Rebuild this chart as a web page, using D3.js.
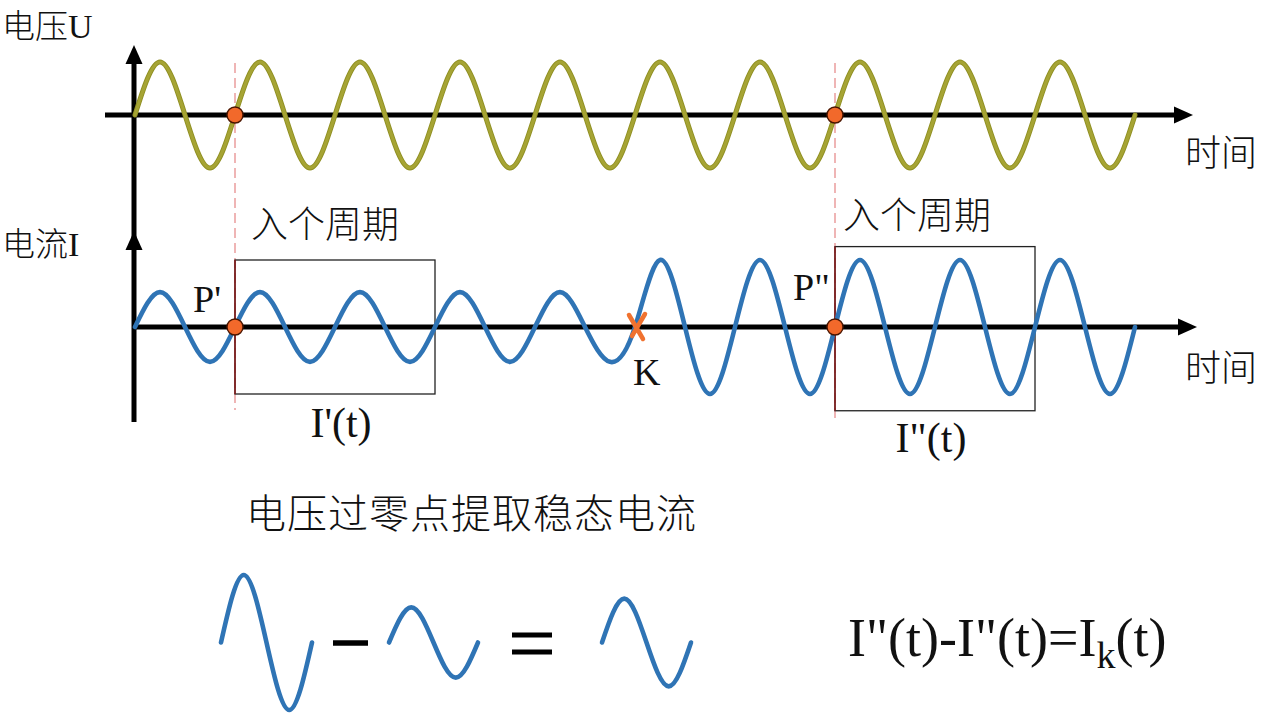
<!DOCTYPE html>
<html><head><meta charset="utf-8">
<script src="https://cdn.jsdelivr.net/npm/d3@7"></script>
<style>html,body{margin:0;padding:0;background:#fff;}svg{display:block;}</style>
</head><body>
<svg id="chart" width="1262" height="717"></svg>
<script>
// ---- data ----
const sampleStep = 0.25; // samples every quarter period
const voltageValues = [0,1,0,-1, 0,1,0,-1, 0,1,0,-1, 0,1,0,-1, 0,1,0,-1,
                       0,1,0,-1, 0,1,0,-1, 0,1,0,-1, 0,1,0,-1, 0,1,0,-1, 0];
const currentValues = [0,0.52,0,-0.52, 0,0.52,0,-0.52, 0,0.52,0,-0.52, 0,0.52,0,-0.52, 0,0.52,0,-0.52,
                       0,1,0,-1, 0,1,0,-1, 0,1,0,-1, 0,1,0,-1, 0,1,0,-1, 0];
const zeroCrossPoints = [1, 7];        // P', P'' (in periods)
const faultPoint = 5;                  // K
const windows = [{t0:1, t1:3, lo:-1.0, hi:1.0}, {t0:7, t1:9, lo:-1.25, hi:1.2}];
const glyphShape = [0, 1, 0, -1, 0];
const glyphAmps = [1.0, 0.52, 0.65];   // I''(t), I'(t), Ik(t)
const labels = {
  u: ["电压", "U"], i: ["电流", "I"], time: "时间", win: "入个周期",
  p1: "P'", p2: "P\"", k: "K", i1: "I'(t)", i2: "I\"(t)",
  title: "电压过零点提取稳态电流"
};

// ---- scales ----
const svg = d3.select("#chart");
const x = d3.scaleLinear().domain([0, 10]).range([135, 1135]);
const yV = d3.scaleLinear().domain([-1, 1]).range([168, 62]);
const yI = d3.scaleLinear().domain([-1, 1]).range([394, 260]);

const serif = "'Liberation Serif','Noto Sans CJK SC',serif";
const cjk = "'Noto Sans CJK SC','Liberation Serif',sans-serif";

svg.append("rect").attr("width",1262).attr("height",717).attr("fill","#fff");

// dashed guide lines
zeroCrossPoints.forEach((t,k)=>{
  svg.append("line").attr("x1",x(t)).attr("x2",x(t))
    .attr("y1", yV(0.98)).attr("y2", k===0 ? 410 : 420)
    .attr("stroke","#eba3a3").attr("stroke-width",1.6).attr("stroke-dasharray","10,5");
});

// windows
windows.forEach(w=>{
  svg.append("rect").attr("x",x(w.t0)).attr("y",yI(w.hi))
    .attr("width",x(w.t1)-x(w.t0)).attr("height",yI(w.lo)-yI(w.hi))
    .attr("fill","none").attr("stroke","#222").attr("stroke-width",1.3);
  svg.append("line").attr("x1",x(w.t0)).attr("x2",x(w.t0))
    .attr("y1",yI(w.hi)).attr("y2",yI(w.lo))
    .attr("stroke","#8a1c1c").attr("stroke-width",1.5);
});

// axes
const axisW = 5;
svg.append("line").attr("x1",x(-0.3)).attr("x2",x(10.42)).attr("y1",yV(0)).attr("y2",yV(0))
  .attr("stroke","#000").attr("stroke-width",axisW);
svg.append("line").attr("x1",x(-0.02)).attr("x2",x(10.46)).attr("y1",yI(0)).attr("y2",yI(0))
  .attr("stroke","#000").attr("stroke-width",axisW);
svg.append("line").attr("x1",x(0)-1).attr("x2",x(0)-1).attr("y1",58).attr("y2",422)
  .attr("stroke","#000").attr("stroke-width",axisW);
function arrow(tx, ty, dir){
  const L=19, hw=8.5;
  let p;
  if(dir==="right") p=[[tx,ty],[tx-L,ty-hw],[tx-L,ty+hw]];
  else p=[[tx,ty],[tx-hw,ty+L],[tx+hw,ty+L]];
  svg.append("path").attr("d","M"+p.map(d=>d.join(",")).join("L")+"Z").attr("fill","#000");
}
arrow(x(10.58), yV(0), "right");
arrow(x(10.62), yI(0), "right");
arrow(x(0)-1, 45, "up");
arrow(x(0)-1, 231, "up");

// waves
const lineV = d3.line().x((d,i)=>x(i*sampleStep)).y(d=>yV(d)).curve(d3.curveNatural);
const lineI = d3.line().x((d,i)=>x(i*sampleStep)).y(d=>yI(d)).curve(d3.curveNatural);
svg.append("path").attr("d",lineV(voltageValues)).attr("fill","none")
  .attr("stroke","#8f8f22").attr("stroke-width",5).attr("stroke-linecap","round");
svg.append("path").attr("d",lineV(voltageValues)).attr("fill","none")
  .attr("stroke","#a6a434").attr("stroke-width",3.2).attr("stroke-linecap","round");
svg.append("path").attr("d",lineI(currentValues)).attr("fill","none")
  .attr("stroke","#2f74b5").attr("stroke-width",4.6).attr("stroke-linecap","round");

// zero-crossing dots
zeroCrossPoints.forEach(t=>{
  [yV(0), yI(0)].forEach(cy=>{
    svg.append("circle").attr("cx",x(t)).attr("cy",cy).attr("r",8)
      .attr("fill","#f2692b").attr("stroke","#4a1500").attr("stroke-width",1.4);
  });
});

// K cross
const kx = x(faultPoint)+2, ky = yI(0);
svg.append("path").attr("d",`M${kx-8},${ky-12}L${kx+6},${ky+12}M${kx+8},${ky-13}L${kx-5},${ky+9}`)
  .attr("stroke","#f0722f").attr("stroke-width",4.5).attr("stroke-linecap","round").attr("fill","none");

// text
function txt(s, tx, ty, size, fam, anchor){
  return svg.append("text").attr("x",tx).attr("y",ty).attr("font-size",size)
    .attr("font-family",fam).attr("fill","#111").attr("text-anchor",anchor||"start").text(s);
}
[[labels.u, 38], [labels.i, 256]].forEach(([pair, by])=>{
  const t = txt("", 2, by, 33, cjk).attr("font-weight",300);
  t.append("tspan").text(pair[0]);
  t.append("tspan").attr("font-family",serif).attr("font-weight",400).attr("font-size",34).text(pair[1]);
});
txt(labels.time, 1185, 166, 36, cjk).attr("font-weight",300);
txt(labels.time, 1185, 381, 36, cjk).attr("font-weight",300);
txt(labels.win, x(windows[0].t0)+16, 238, 37, cjk).attr("font-weight",300);
txt(labels.win, x(windows[1].t0)+8, 229, 37, cjk).attr("font-weight",300);
txt(labels.p1, 193, 312, 38, serif);
txt(labels.p2, 793, 300, 38, serif);
txt(labels.k, 633, 385, 38, serif);
txt(labels.i1, x(2)+6, 437, 42, serif, "middle");
txt(labels.i2, x(8)-4, 452, 42, serif, "middle");
txt(labels.title, 246, 528, 40, cjk).attr("letter-spacing", 1).attr("font-weight",300);

// bottom equation glyphs
const gY = d3.scaleLinear().domain([-1,1]).range([710, 575]);
const glyphX = [[221,312],[389,478],[602,691]];
glyphAmps.forEach((a,gi)=>{
  const gx = d3.scaleLinear().domain([0,1]).range(glyphX[gi]);
  const gl = d3.line().x((d,i)=>gx(i/(glyphShape.length-1))).y(d=>gY(d*a)).curve(d3.curveNatural);
  svg.append("path").attr("d",gl(glyphShape)).attr("fill","none")
    .attr("stroke","#2f74b5").attr("stroke-width",4.6).attr("stroke-linecap","round");
});
svg.append("line").attr("x1",333).attr("x2",368).attr("y1",643).attr("y2",643).attr("stroke","#000").attr("stroke-width",5.5);
svg.append("line").attr("x1",512).attr("x2",552).attr("y1",635).attr("y2",635).attr("stroke","#000").attr("stroke-width",5);
svg.append("line").attr("x1",512).attr("x2",552).attr("y1",652).attr("y2",652).attr("stroke","#000").attr("stroke-width",5);

const f = txt("", 848, 656, 54, serif);
f.append("tspan").text("I\"(t)-I\"(t)=I");
f.append("tspan").attr("font-size",38).attr("dy",12).text("k");
f.append("tspan").attr("dy",-12).text("(t)");
</script>
</body></html>
